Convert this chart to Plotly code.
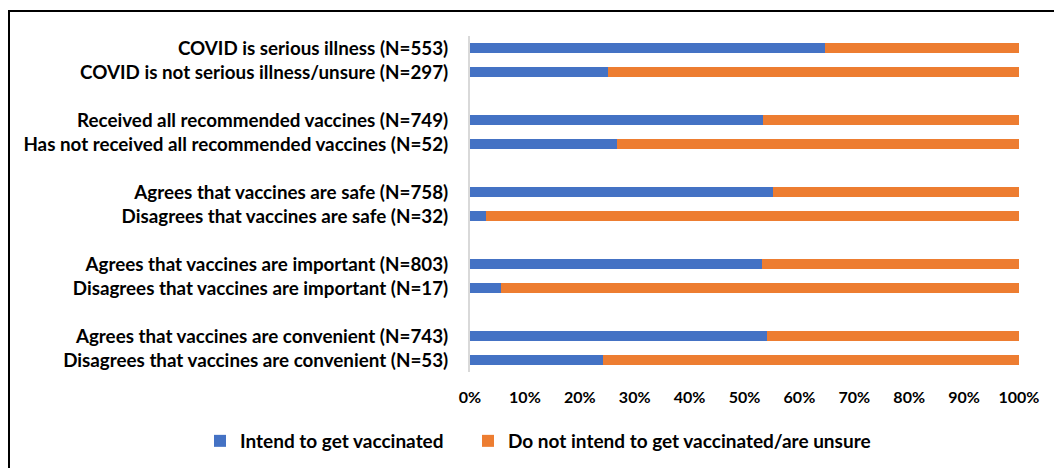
import plotly.graph_objects as go

categories = [
    "COVID is serious illness (N=553)",
    "COVID is not serious illness/unsure (N=297)",
    "Received all recommended vaccines (N=749)",
    "Has not received all recommended vaccines (N=52)",
    "Agrees that vaccines are safe (N=758)",
    "Disagrees that vaccines are safe (N=32)",
    "Agrees that vaccines are important (N=803)",
    "Disagrees that vaccines are important (N=17)",
    "Agrees that vaccines are convenient (N=743)",
    "Disagrees that vaccines are convenient (N=53)",
]
groups = [0, 0, 1, 1, 2, 2, 3, 3, 4, 4]
intend = [64.7, 25.1, 53.3, 26.8, 55.1, 2.9, 53.2, 5.6, 54.1, 24.3]
not_intend = [100 - v for v in intend]
series_names = ["Intend to get vaccinated", "Do not intend to get vaccinated/are unsure"]
colors = ["#4472C4", "#ED7D31"]
xticks = [0, 10, 20, 30, 40, 50, 60, 70, 80, 90, 100]

ypos = [i + g for i, g in enumerate(groups)]

FAM = "Lato, 'Open Sans', sans-serif"
legend_ids = ["legend", "legend2"]

fig = go.Figure()
for name, vals, col, lg in zip(series_names, [intend, not_intend], colors, legend_ids):
    fig.add_trace(go.Bar(
        y=ypos, x=vals, orientation="h", name=name, legend=lg,
        marker=dict(color=col, line=dict(width=0)),
        width=0.42,
    ))

legend_common = dict(orientation="h", xref="paper", yref="paper",
                     xanchor="left", y=(372 - 441) / 336, yanchor="middle",
                     font=dict(family=FAM, size=19, color="#000", weight="bold"),
                     bgcolor="rgba(0,0,0,0)")

fig.update_layout(
    barmode="stack",
    width=1054, height=468,
    margin=dict(l=470, r=35, t=36, b=96, autoexpand=False),
    paper_bgcolor="white", plot_bgcolor="white",
    font=dict(family=FAM, size=15, color="#000", weight="bold"),
    showlegend=True,
    legend=dict(x=(200 - 470) / 549, **legend_common),
    legend2=dict(x=(468 - 470) / 549, **legend_common),
    xaxis=dict(range=[0, 100], tickvals=xticks, ticktext=[f"{v}%" for v in xticks],
               showgrid=False, zeroline=False, showline=False,
               tickfont=dict(family=FAM, size=16, color="#000", weight="bold"),
               ticks="", ticklabelstandoff=14),
    yaxis=dict(range=[max(ypos) + 0.5, -0.5], tickvals=ypos, ticktext=categories,
               showgrid=False, zeroline=False, showline=True, linecolor="#d9d9d9", linewidth=2,
               ticks="", ticklabelstandoff=16,
               tickfont=dict(family=FAM, size=18.8, color="#000", weight="bold")),
    shapes=[dict(type="rect", xref="paper", yref="paper",
                 x0=(9 - 470) / 549, x1=1.2, y0=-0.6, y1=(372 - 11) / 336,
                 line=dict(color="#000", width=2), fillcolor="rgba(0,0,0,0)", layer="below")],
)
fig.write_html("out.html")
